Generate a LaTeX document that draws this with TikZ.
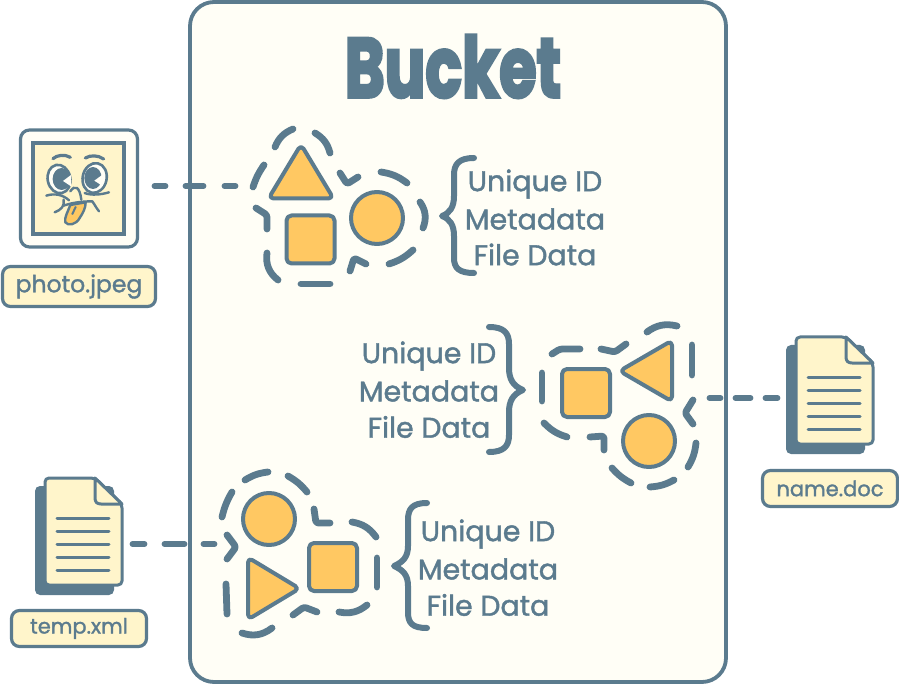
\documentclass[tikz,border=0pt]{standalone}
\usepackage{fontspec}
\setmainfont{Poppins}
\newfontfamily\lab[FakeBold=1.4]{Poppins}
\newfontfamily\ttl[FakeBold=4]{Poppins Bold}
\definecolor{ink}{HTML}{5B7B8E}
\definecolor{cream}{HTML}{FFFEF6}
\definecolor{pale}{HTML}{FFF5CB}
\definecolor{gold}{HTML}{FFC862}
\tikzset{
  ds/.style={draw=ink,line width=6.8pt,line cap=round,line join=round,rounded corners=2.5pt},
  arc/.style={ds,bend left=#1},
  arc/.default=22,
  conn/.style={draw=ink,line width=5.8pt,line cap=round},
  shp/.style={draw=ink,fill=gold,line width=4pt,line join=round},
  rshp/.style={shp,rounded corners=5pt},
  filelabel/.style={draw=ink,fill=pale,line width=3.2pt,rounded corners=8pt,text=ink,inner sep=0pt,anchor=center},
  info/.style={font=\lab\fontsize{28.5}{31}\selectfont,text=ink,inner sep=0pt,anchor=center},
  brace/.style={draw=ink,line width=6pt,line cap=round,line join=round},
  docfile/.pic={
    \fill[ink,rounded corners=5pt] (-10,8) rectangle (69,117);
    \draw[draw=ink,fill=pale,line width=3pt,line join=round,rounded corners=4pt] (0,0) -- (50,0) -- (77,26) -- (77,107) -- (0,107) -- cycle;
    \draw[draw=ink,fill=pale,line width=3pt,line join=round] (50,0) -- (50,20) .. controls (50,24) and (52,26) .. (56,26) -- (77,26) -- cycle;
    \foreach \ly in {40,53,66,79,92}{\draw[ink,line width=3pt,line cap=round] (12,\ly) -- (64,\ly);}
  }
}
\begin{document}
\begin{tikzpicture}[x=1pt,y=-1pt]
\useasboundingbox (0,0) rectangle (899,684);
% bucket
\node[draw=ink,fill=cream,line width=3.8pt,rounded corners=24pt,minimum width=536pt,minimum height=680pt,inner sep=0pt] (bucket) at (458,342) {};
\node[inner sep=0pt,text=ink] (title) at (453,66.5) {\resizebox{216pt}{62pt}{\ttl Bucket}};

% photo file
\node[draw=ink,fill=cream,line width=3.2pt,rounded corners=9pt,minimum width=117pt,minimum height=117pt,inner sep=0pt] (photo) at (79,188.5) {};
\node[draw=ink,fill=pale,line width=3.6pt,minimum width=91pt,minimum height=91pt,inner sep=0pt] (photoin) at (78.5,188.5) {};
\begin{scope}[shift={(33,143)},x=0.3333pt,y=-0.3333pt]
  \draw[ink,line width=3.2pt,line cap=round] (60,47) .. controls (72,36) and (95,33) .. (112,43);
  \draw[ink,line width=3.2pt,line cap=round] (157,45) .. controls (172,36) and (195,36) .. (212,48);
  % eyes
  \draw[ink,fill=cream,line width=2.6pt,rotate around={12:(78,108)}] (78,108) ellipse [x radius=34,y radius=43];
  \draw[ink,fill=cream,line width=2.6pt,rotate around={-12:(185,105)}] (185,105) ellipse [x radius=36,y radius=45];
  \fill[ink] (86,108) ellipse [x radius=27,y radius=33];
  \fill[ink] (180,105) ellipse [x radius=26,y radius=33];
  \fill[cream] (114,96) -- (90,114) -- (114,130) -- cycle;
  \fill[cream] (210,94) -- (184,113) -- (210,130) -- cycle;
  % cheeks and nose
  \draw[ink,line width=2.4pt,line cap=round] (40,158) .. controls (65,150) and (90,155) .. (108,172);
  \draw[ink,line width=2.4pt,line cap=round] (112,145) .. controls (125,125) and (140,130) .. (145,170);
  \draw[ink,line width=2.4pt,line cap=round] (155,150) .. controls (175,158) and (205,155) .. (228,148);
  % mouth
  \draw[ink,line width=2.4pt,line cap=round] (65,208) .. controls (85,200) and (95,190) .. (92,170);
  \draw[ink,line width=2.4pt,line cap=round] (92,188) .. controls (120,178) and (150,175) .. (178,175);
  \draw[ink,line width=2.4pt,line cap=round] (178,175) .. controls (185,185) and (190,195) .. (198,205);
  % tongue
  \draw[ink,fill=gold,line width=2.4pt,line join=round] (112,186) .. controls (105,205) and (93,225) .. (97,238) .. controls (105,250) and (130,245) .. (140,225) .. controls (150,210) and (158,195) .. (158,178) -- cycle;
  \draw[ink,line width=2pt,line cap=round] (128,192) -- (118,213);
\end{scope}
\node[filelabel,font=\lab\fontsize{23.5}{25}\selectfont,minimum width=153pt,minimum height=40pt] (photolabel) at (79,286.5) {photo.jpeg};

% name.doc
\pic (namedoc) at (796,337) {docfile};
\node[filelabel,font=\lab\fontsize{21}{25}\selectfont,minimum width=135pt,minimum height=36pt] (namelabel) at (830,488.5) {name.doc};
% temp.xml
\pic (tempdoc) at (45,478) {docfile};
\node[filelabel,font=\lab\fontsize{21}{25}\selectfont,minimum width=135pt,minimum height=36pt] (templabel) at (79,628.5) {temp.xml};

% connector ends
\coordinate (c1a) at (154.5,186);
\coordinate (c1b) at (236,186);
\coordinate (c2a) at (777.5,398);
\coordinate (c2b) at (709,398);
\coordinate (c3a) at (132.5,544);
\coordinate (c3b) at (215,544);
\draw[conn,dash pattern=on 11pt off 20pt on 18pt off 21pt on 11pt off 100pt] (c1a) -- (c1b);
\draw[conn,dash pattern=on 12pt off 15pt on 15pt off 15pt on 11pt off 100pt] (c2a) -- (c2b);
\draw[conn,dash pattern=on 12pt off 20pt on 20pt off 19pt on 11pt off 100pt] (c3a) -- (c3b);

% cluster 1
\draw[rshp] (301,144.5) -- (333.5,198.5) -- (268.5,198.5) -- cycle;
\node[shp,rounded corners=5pt,minimum width=48pt,minimum height=48pt,inner sep=0pt] (s1) at (310.5,239.5) {};
\node[shp,circle,minimum size=52pt,inner sep=0pt] (o1) at (377,218) {};
\draw[arc] (275,147) to (293,129);
\draw[arc] (315,133) to (330,153);
\draw[arc=8] (253,187) to (264,165);
\draw[ds] (256,208) -- (267,215) -- (267,229);
\draw[arc=30] (278,280) to (267,253);
\draw[ds] (301,284) -- (330,284);
\draw[ds] (350,271) -- (354,258) -- (366,264);
\draw[arc=12] (413,250) to (389,264);
\draw[arc=28] (420,202) to (423,228);
\draw[arc=14] (381,172) to (407,183);
\draw[ds] (358,177) -- (347,184) -- (340,173);
\node[info] (t1a) at (535,184) {Unique ID};
\node[info] (t1b) at (535,219) {Metadata};
\node[info] (t1c) at (535,254.5) {File Data};
\draw[brace] (474,158) .. controls (459,158) and (454,164) .. (454,175) -- (454,196) .. controls (454,207) and (450,213) .. (442,216) .. controls (450,219) and (454,225) .. (454,236) -- (454,258) .. controls (454,268) and (459,273) .. (474,273);

% cluster 2
\draw[rshp] (619.5,371) -- (672,340.5) -- (672,401.5) -- cycle;
\node[shp,rounded corners=5pt,minimum width=48pt,minimum height=48pt,inner sep=0pt] (s2) at (586,393) {};
\node[shp,circle,minimum size=52pt,inner sep=0pt] (o2) at (649,441) {};
\draw[ds] (552,354) -- (560,349) -- (580,349);
\draw[ds] (601,349) -- (615,352) -- (626,344);
\draw[arc=25] (647,332) to (677,326);
\draw[ds] (692,345) -- (692,375);
\draw[ds] (693,400) -- (685,413) -- (693,424);
\draw[arc=12] (696,443) to (688,467);
\draw[arc=12] (674,480) to (650,487);
\draw[arc=10] (631,483) to (612,468);
\draw[ds] (590,437) -- (604,436) -- (604,450);
\draw[arc=14] (567,437) to (544,423);
\draw[ds] (542,401) -- (542,373);
\node[info] (t2a) at (429,356) {Unique ID};
\node[info] (t2b) at (429,391) {Metadata};
\node[info] (t2c) at (429,427) {File Data};
\draw[brace] (489,327) .. controls (504,327) and (509,333) .. (509,344) -- (509,368) .. controls (509,379) and (513,386) .. (523,390) .. controls (513,394) and (509,401) .. (509,412) -- (509,435) .. controls (509,446) and (504,452) .. (489,452);

% cluster 3
\node[shp,circle,minimum size=52pt,inner sep=0pt] (o3) at (269,519) {};
\node[shp,rounded corners=5pt,minimum width=48pt,minimum height=48pt,inner sep=0pt] (s3) at (333,567) {};
\draw[rshp] (248,557.5) -- (299.5,588.5) -- (248,619.5) -- cycle;
\draw[ds] (227,535) -- (236,547) -- (227,559);
\draw[arc=8] (222,517) to (232,492);
\draw[arc=12] (245,480) to (268,472);
\draw[arc=10] (288,476) to (307,492);
\draw[ds] (314,509) -- (316,523) -- (330,523);
\draw[arc=22] (352,522) to (376,537);
\draw[ds] (377,558) -- (377,587);
\draw[arc=25] (367,605) to (339,612);
\draw[ds] (317,612) -- (304,607) -- (293,615);
\draw[arc=28] (272,628) to (242,633);
\draw[ds] (227,614) -- (226,584);
\node[info] (t3a) at (488,534) {Unique ID};
\node[info] (t3b) at (488,569) {Metadata};
\node[info] (t3c) at (488,605) {File Data};
\draw[brace] (427,503) .. controls (412,503) and (408,509) .. (408,520) -- (408,546) .. controls (408,557) and (403,562) .. (394,566) .. controls (403,570) and (408,575) .. (408,586) -- (408,612) .. controls (408,623) and (412,628) .. (427,628);
\end{tikzpicture}
\end{document}
